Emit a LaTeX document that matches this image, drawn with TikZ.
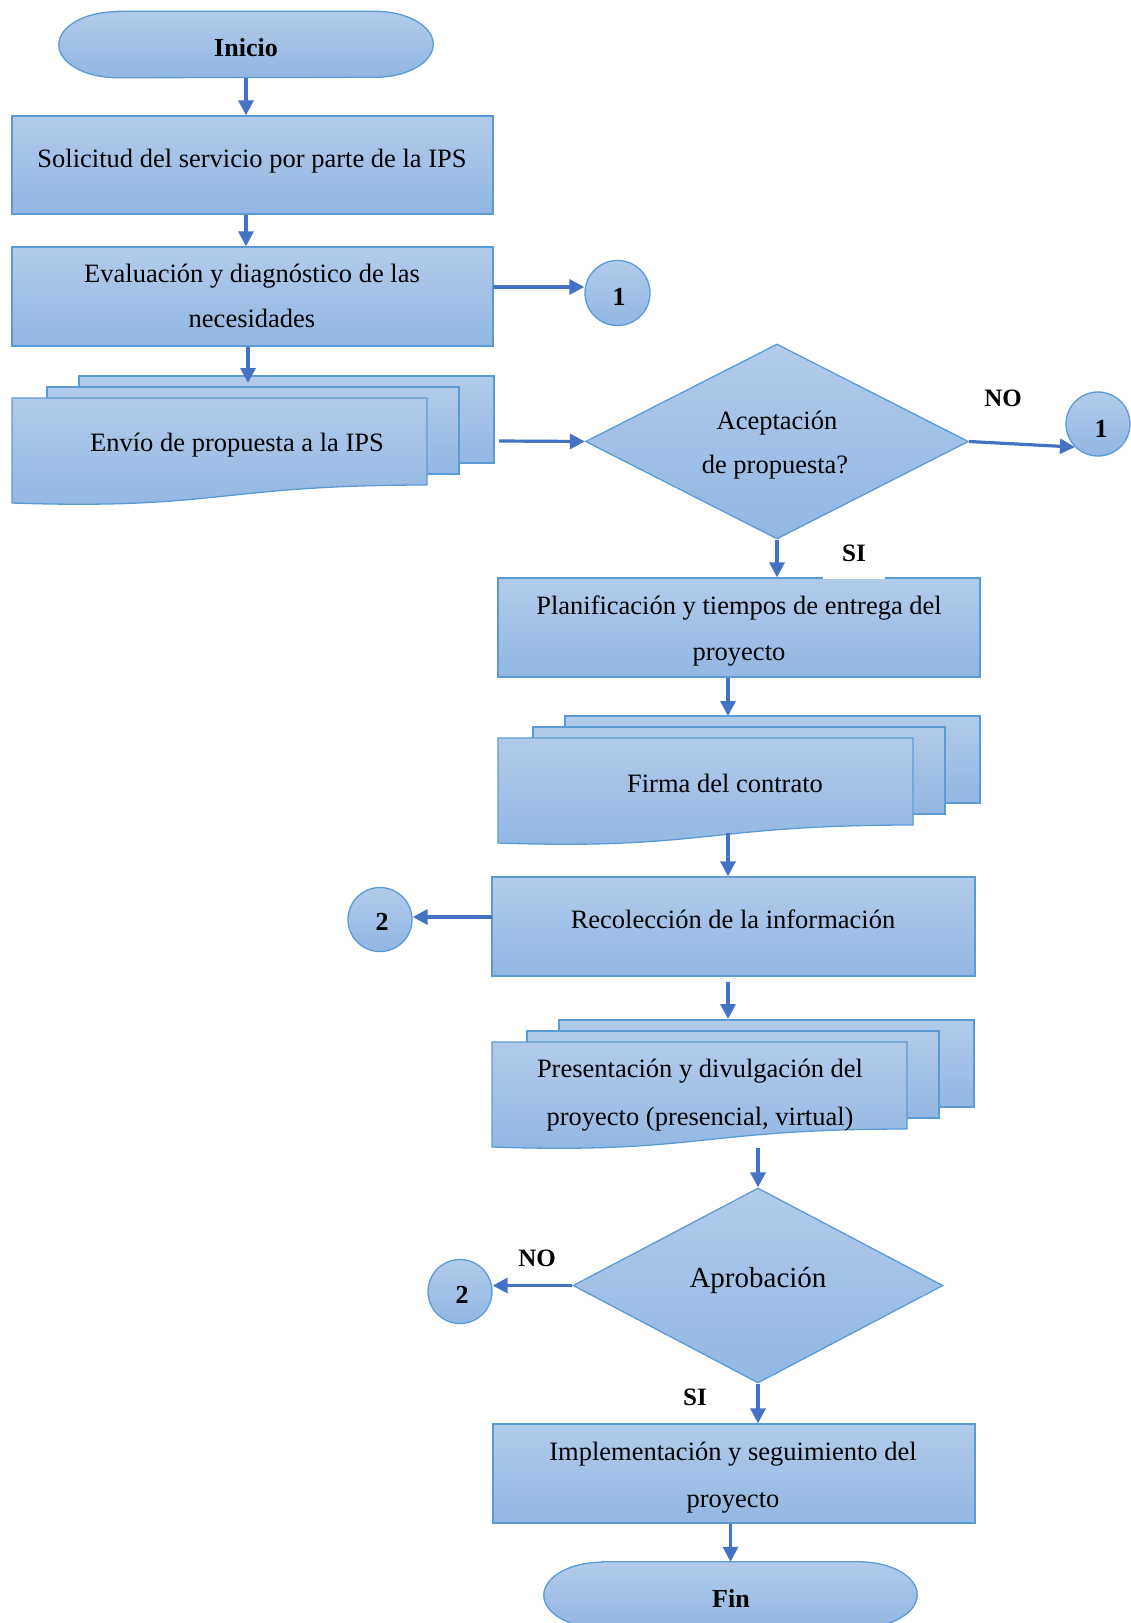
\documentclass[tikz,border=0pt]{standalone}
\usepackage{fontspec}
\setmainfont{Liberation Serif}
\usetikzlibrary{shapes.geometric,arrows.meta}
\definecolor{shTop}{RGB}{178,203,235}
\definecolor{shBot}{RGB}{145,183,227}
\definecolor{edgeBlue}{RGB}{91,155,213}
\definecolor{flowBlue}{RGB}{68,114,196}

\tikzset{
  shapefill/.style={draw=edgeBlue, line width=1.3pt, top color=shTop, bottom color=shBot},
  proc/.style={shapefill, rectangle, inner sep=0pt},
  decision/.style={shapefill, diamond, inner sep=0pt},
  conn/.style={shapefill, circle, inner sep=0pt},
  frame/.style={rectangle, draw=none, inner sep=0pt},
  txt/.style={anchor=base, inner sep=0pt, font=\fontsize{26.5}{32}\selectfont},
  bigtxt/.style={anchor=base, inner sep=0pt, font=\fontsize{29}{34}\selectfont},
  lbl/.style={anchor=base, inner sep=0pt, font=\fontsize{25}{30}\selectfont\bfseries},
  numtxt/.style={anchor=base, inner sep=0pt, font=\fontsize{26}{30}\selectfont\bfseries},
  flowarrow/.style={draw=flowBlue, line width=3.2pt, -{Triangle[length=15pt,width=15pt]}},
  % stacked documents: back sheet, middle sheet, front sheet with wavy bottom
  multidoc/.pic={
    \path[shapefill] (67,-22) rectangle (482,65);
    \path[shapefill] (35,-11) rectangle (447,76);
    \path[shapefill] (0,0) -- (415,0) -- (415,87)
       .. controls (207,87) and (207,112) .. (0,105) -- cycle;
    \node[frame, minimum width=482pt, minimum height=127pt] (-box) at (241,41.5) {};
  },
}

\begin{document}
\begin{tikzpicture}[x=1pt,y=-1pt]
\useasboundingbox (0,0) rectangle (1131,1623);

% ---------- terminators ----------
\node[frame, minimum width=374pt, minimum height=66pt] (ini) at (246,44.5) {};
\path[shapefill] ([xshift=58pt]ini.north west) -- ([xshift=-58pt]ini.north east)
   arc[start angle=-90, end angle=90, x radius=58, y radius=33]
   -- ([xshift=58pt]ini.south west)
   arc[start angle=90, end angle=270, x radius=58, y radius=33] -- cycle;

\node[frame, minimum width=373pt, minimum height=66pt] (fin) at (730.5,1595) {};
\path[shapefill] ([xshift=58pt]fin.north west) -- ([xshift=-58pt]fin.north east)
   arc[start angle=-90, end angle=90, x radius=58, y radius=33]
   -- ([xshift=58pt]fin.south west)
   arc[start angle=90, end angle=270, x radius=58, y radius=33] -- cycle;

% ---------- process boxes ----------
\node[proc, minimum width=481pt, minimum height=98pt] (p1) at (252.5,165) {};
\node[proc, minimum width=481pt, minimum height=99pt] (p2) at (252.5,296.5) {};
\node[proc, minimum width=482pt, minimum height=99pt] (p3) at (739,627.5) {};
\node[proc, minimum width=483pt, minimum height=99pt] (p4) at (733.5,926.5) {};
\node[proc, minimum width=482pt, minimum height=99pt] (p5) at (734,1473.5) {};

% ---------- stacked documents ----------
\pic (envio) at (12,398) {multidoc};
\pic (firma) at (498,738) {multidoc};
\pic (present) at (492,1042) {multidoc};

% ---------- decisions ----------
\node[decision, minimum width=383pt, minimum height=195pt] (d1) at (777,441.5) {};
\node[decision, minimum width=370pt, minimum height=195pt] (d2) at (758,1285.5) {};

% ---------- connectors ----------
\node[conn, minimum size=65pt] (c1a) at (617.5,293) {};
\node[conn, minimum size=64pt] (c1b) at (1098,424) {};
\node[conn, minimum size=64pt] (c2a) at (380,919.5) {};
\node[conn, minimum size=64pt] (c2b) at (460,1291.5) {};

% ---------- arrow end points ----------
\coordinate (p2out) at (493,287);
\coordinate (envIn) at (248,383);
\coordinate (envOut) at (499,441);
\coordinate (firIn) at (728,716);
\coordinate (firOut) at (728,833);
\coordinate (p4out) at (492,917);
\coordinate (preTop) at (728,982);
\coordinate (preIn) at (728,1019);
\coordinate (preOut) at (758,1148);

% ---------- flow arrows ----------
\draw[flowarrow] (ini.south) -- (ini.south |- p1.north);
\draw[flowarrow] (p1.south -| ini.south) -- (p2.north -| ini.south);
\draw[flowarrow] (p2out) -- (p2out -| c1a.west);
\draw[flowarrow] (p2.south -| envIn) -- (envIn);
\draw[flowarrow] (envOut) -- (d1.west);
\draw[flowarrow] (d1.east) -- (c1b.225);
\draw[flowarrow] (d1.south) -- (d1.south |- p3.north);
\draw[flowarrow] (p3.south -| firIn) -- (firIn);
\draw[flowarrow] (firOut) -- (firOut |- p4.north);
\draw[flowarrow] (p4out) -- (p4out -| c2a.east);
\draw[flowarrow] (preTop) -- (preIn);
\draw[flowarrow] (preOut) -- (d2.north);
\draw[flowarrow] (d2.west) -- (d2.west -| c2b.east);
\draw[flowarrow] (d2.south) -- (d2.south |- p5.north);
\draw[flowarrow] (p5.south -| fin.north) -- (fin.north);

% ---------- texts ----------
\node[numtxt] (tIni) at (246,56) {Inicio};
\node[txt] (tP1) at (252,167) {Solicitud del servicio por parte de la IPS};
\node[txt] (tP2a) at (252,282) {Evaluación y diagnóstico de las};
\node[txt] (tP2b) at (252,327) {necesidades};
\node[txt] (tEnv) at (237,451) {Envío de propuesta a la IPS};
\node[numtxt] (tC1a) at (619,305) {1};
\node[txt] (tD1a) at (777,429) {Aceptación};
\node[txt] (tD1b) at (775,473) {de propuesta?};
\node[lbl] (no1) at (1003,406) {NO};
\node[numtxt] (tC1b) at (1101,437) {1};
\node[lbl, fill=white, inner xsep=19pt, inner ysep=2pt, text depth=16pt] (si1) at (854,561) {SI};
\node[txt] (tP3a) at (739,614) {Planificación y tiempos de entrega del};
\node[txt] (tP3b) at (739,660) {proyecto};
\node[txt] (tFir) at (725,792) {Firma del contrato};
\node[txt] (tP4) at (733,928) {Recolección de la información};
\node[numtxt] (tC2a) at (382,930) {2};
\node[txt] (tPreA) at (700,1077) {Presentación y divulgación del};
\node[txt] (tPreB) at (700,1125) {proyecto (presencial, virtual)};
\node[bigtxt] (tD2) at (758,1287) {Aprobación};
\node[lbl] (no2) at (537,1266) {NO};
\node[numtxt] (tC2b) at (462,1303) {2};
\node[lbl] (si2) at (695,1405) {SI};
\node[txt] (tP5a) at (733,1460) {Implementación y seguimiento del};
\node[txt] (tP5b) at (733,1507) {proyecto};
\node[numtxt] (tFin) at (731,1607) {Fin};
\end{tikzpicture}
\end{document}
